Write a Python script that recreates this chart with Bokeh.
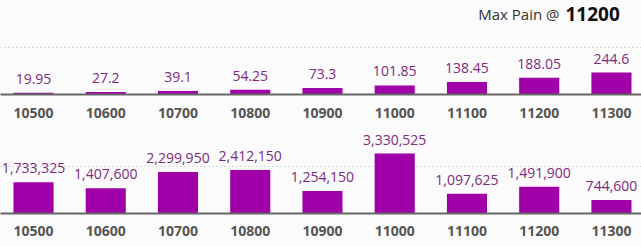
from bokeh.plotting import figure
from bokeh.layouts import column
from bokeh.models import ColumnDataSource, Range1d, FixedTicker, Label
from bokeh.core.properties import value
from bokeh.embed import file_html
from bokeh.resources import INLINE

strikes = ["10500", "10600", "10700", "10800", "10900", "11000", "11100", "11200", "11300"]
premium = [19.95, 27.2, 39.1, 54.25, 73.3, 101.85, 138.45, 188.05, 244.6]
premium_labels = ["19.95", "27.2", "39.1", "54.25", "73.3", "101.85", "138.45", "188.05", "244.6"]
pain = [1733325, 1407600, 2299950, 2412150, 1254150, 3330525, 1097625, 1491900, 744600]
pain_labels = ["1,733,325", "1,407,600", "2,299,950", "2,412,150", "1,254,150",
               "3,330,525", "1,097,625", "1,491,900", "744,600"]
max_pain = "11200"

BG = "#fbfbfb"
BAR = "#a000a8"
LBL = "#7d2a7f"
FONT = "Open Sans"

idx = list(range(len(strikes)))


def make_panel(vals, labels, y_end, grid_val, height, bottom_border, standoff):
    src = ColumnDataSource(dict(x=idx, top=vals, lab=labels))
    p = figure(width=641, height=height, output_backend="svg", toolbar_location=None,
               x_range=Range1d(-0.457, 8.416), y_range=Range1d(0, y_end),
               min_border_left=0, min_border_right=0, min_border_top=0,
               min_border_bottom=bottom_border,
               background_fill_color=BG, border_fill_color=BG, outline_line_color=None)
    p.vbar(x="x", top="top", bottom=0, width=0.555, source=src, color=BAR, line_color=None)
    p.text(x="x", y="top", text="lab", source=src, text_align="center",
           text_baseline="alphabetic", y_offset=-14, text_color=LBL,
           text_font=value(FONT), text_font_size="14px")
    p.yaxis.visible = False
    p.xgrid.visible = False
    p.ygrid.ticker = FixedTicker(ticks=[grid_val])
    p.ygrid.grid_line_color = "#b5b5b5"
    p.ygrid.grid_line_dash = "1 3"
    p.ygrid.grid_line_width = 1
    ax = p.xaxis[0]
    ax.ticker = FixedTicker(ticks=idx)
    ax.major_label_overrides = {i: s for i, s in enumerate(strikes)}
    ax.axis_line_color = "#666666"
    ax.axis_line_width = 2
    ax.major_tick_in = 0
    ax.major_tick_out = 0
    ax.minor_tick_in = 0
    ax.minor_tick_out = 0
    ax.major_label_standoff = standoff
    ax.major_label_text_font = FONT
    ax.major_label_text_font_style = "bold"
    ax.major_label_text_font_size = "14px"
    ax.major_label_text_color = "#555555"
    return p


top = make_panel(premium, premium_labels, 1050, 530, 128, 34, 13)
top.add_layout(Label(x=559, y=81, x_units="screen", y_units="screen", text="Max Pain @",
                     text_font=FONT, text_font_size="15px", text_color="#333333",
                     text_align="right", text_baseline="alphabetic"))
top.add_layout(Label(x=565, y=81, x_units="screen", y_units="screen", text=max_pain,
                     text_font=FONT, text_font_size="19px", text_font_style="bold",
                     text_color="#111111", text_align="left", text_baseline="alphabetic"))
bottom = make_panel(pain, pain_labels, 4720000, 2600000, 118, 33, 12)

layout = column(top, bottom, spacing=0, background=BG)
open("out.html", "w").write(file_html(layout, INLINE))
